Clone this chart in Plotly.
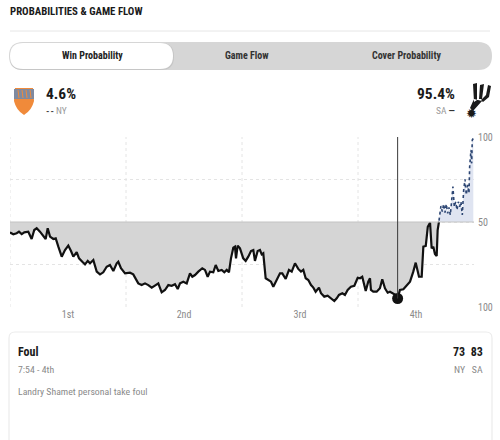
import plotly.graph_objects as go

# game clock in minutes elapsed (0-48), value = position on the 100/50/100 scale
game_min = [0.0, 0.34, 0.69, 0.93, 1.21, 1.48, 1.89, 2.24, 2.51, 2.76, 3.10, 3.44, 3.69, 3.90,
            4.14, 4.48, 4.73, 5.00, 5.35, 5.69, 6.03, 6.31, 6.55, 6.90, 7.14, 7.48, 7.76, 8.04,
            8.28, 8.62, 8.97, 9.31, 9.65, 10.00, 10.34, 10.69, 11.04, 11.20, 11.48, 11.90, 12.41,
            12.75, 13.27, 13.62, 13.97, 14.31, 14.66, 15.07, 15.34, 15.69, 16.03, 16.38, 16.73,
            17.07, 17.35, 17.59, 17.93, 18.28, 18.62, 18.86, 19.14, 19.48, 19.89, 20.17, 20.45,
            20.69, 21.03, 21.28, 21.55, 21.90, 22.17, 22.42, 22.65, 22.86, 23.10, 23.27, 23.38,
            23.55, 23.79, 24.13, 24.38, 24.65, 24.93, 25.17, 25.34, 25.62, 25.86, 26.04, 26.20,
            26.45, 26.72, 27.00, 27.24, 27.59, 27.93, 28.17, 28.52, 28.86, 29.14, 29.48, 29.82,
            30.10, 30.34, 30.59, 30.86, 31.14, 31.38, 31.62, 31.96, 32.17, 32.51, 32.86, 33.21,
            33.55, 33.80, 34.03, 34.38, 34.65, 34.93, 35.27, 35.62, 35.97, 36.21, 36.44, 36.80,
            37.06, 37.24, 37.34, 37.58, 37.93, 38.27, 38.51, 38.79, 39.07, 39.31, 39.55, 39.90,
            40.10, 40.34, 40.69, 41.04, 41.38, 41.72, 41.97, 42.31, 42.59, 42.76, 43.01, 43.22,
            43.45, 43.62, 43.79, 43.96, 44.14, 44.24, 44.38]
win_prob = [43.9, 42.8, 43.4, 44.3, 42.9, 43.9, 44.3, 40.0, 45.3, 46.3, 44.3, 41.9, 40.0, 46.3,
            41.4, 40.0, 40.4, 35.5, 29.6, 33.5, 36.1, 32.9, 29.6, 32.2, 28.6, 26.6, 25.1, 27.1,
            25.7, 27.6, 20.8, 19.2, 20.4, 23.7, 24.7, 21.2, 25.7, 26.6, 22.8, 19.8, 20.2,
            19.2, 13.9, 12.9, 13.9, 12.9, 11.4, 12.9, 13.9, 8.6, 10.0, 12.9, 12.5,
            13.4, 10.6, 13.9, 14.9, 13.9, 19.8, 17.8, 18.8, 20.8, 22.8, 21.8, 17.8,
            20.8, 20.4, 24.7, 21.2, 21.8, 20.4, 21.8, 20.4, 28.6, 34.9, 35.5, 28.6,
            36.1, 34.5, 28.6, 27.1, 29.6, 32.9, 33.5, 27.1, 32.9, 33.5, 31.0, 31.6,
            16.9, 15.9, 14.9, 11.9, 15.9, 19.8, 19.8, 16.5, 21.8, 20.8, 25.7, 22.4,
            20.8, 21.8, 16.9, 15.9, 12.9, 11.4, 9.0, 11.4, 8.1, 6.1, 6.7, 5.1,
            3.5, 5.1, 7.1, 8.1, 7.1, 10.0, 11.9, 12.5, 17.2, 16.9, 17.8, 9.4,
            14.9, 16.9, 10.0, 9.0, 9.0, 11.0, 16.3, 11.0, 8.4, 9.0, 8.1, 7.1,
            5.0, 10.0, 10.4, 12.9, 14.9, 20.8, 26.1, 17.8, 17.8, 35.5, 35.9, 47.2,
            49.6, 34.5, 35.5, 31.2, 30.0, 45.3, 50.2]

sa_min = [44.38, 44.58, 44.72, 44.86, 45.00, 45.13, 45.28, 45.41, 45.55, 45.69, 45.82, 45.96,
          46.11, 46.24, 46.38, 46.52, 46.65, 46.79, 46.93, 47.07, 47.20, 47.35, 47.48, 47.55,
          47.69, 47.76, 47.82, 47.93]
sa_prob = [50.8, 59.4, 56.1, 60.6, 55.5, 60.6, 55.1, 58.6, 54.1, 63.9, 70.8, 59.0,
           61.9, 57.1, 61.9, 59.0, 61.9, 54.1, 68.8, 75.1, 65.9, 71.8, 66.9, 82.5,
           92.4, 84.5, 98.2, 99.2]

quarters = ["1st", "2nd", "3rd", "4th"]
quarter_mid = [6, 18, 30, 42]
quarter_edges = [0, 12, 24, 36]
y_ticks = [0, 25, 50, 75, 100]
y_labels = ["100", "", "50", "", "100"]

hover_min = 40.10
hover_prob = 5.0

FONT = "Roboto Condensed, Roboto, sans-serif"
W, H = 500, 440


def px(x):
    return x / W


def py(y):
    return 1 - y / H


def poly(pts):
    return "M" + " L".join(f"{px(a)},{py(b)}" for a, b in pts) + " Z"


def pill(x0, y0, x1, y1, r):
    # rounded rect in paper coords, input in pixels
    a, b, c, d = px(x0), py(y0), px(x1), py(y1)
    rx, ry = r / W, r / H
    return (f"M{a+rx},{b} L{c-rx},{b} Q{c},{b} {c},{b-ry} L{c},{d+ry} Q{c},{d} {c-rx},{d} "
            f"L{a+rx},{d} Q{a},{d} {a},{d+ry} L{a},{b-ry} Q{a},{b} {a+rx},{b} Z")


fig = go.Figure()

# baseline at 50 for fills
fig.add_trace(go.Scatter(x=game_min, y=[50] * len(game_min), mode="lines",
                         line=dict(width=0), hoverinfo="skip", showlegend=False))
fig.add_trace(go.Scatter(x=game_min, y=win_prob, mode="lines", fill="tonexty",
                         fillcolor="#d5d5d5", line=dict(color="#111111", width=2.2),
                         showlegend=False))
fig.add_trace(go.Scatter(x=sa_min, y=[50] * len(sa_min), mode="lines",
                         line=dict(width=0), hoverinfo="skip", showlegend=False))
fig.add_trace(go.Scatter(x=sa_min, y=sa_prob, mode="lines", fill="tonexty",
                         fillcolor="#dfe4f1", line=dict(color="#2d4673", width=1.6, dash="dot"),
                         showlegend=False))

shapes = []
# vertical quarter gridlines
for q in quarter_edges:
    shapes.append(dict(type="line", xref="x", yref="y", x0=q, x1=q, y0=0, y1=100,
                       line=dict(color="#e4e4e4", width=1, dash="dot"), layer="below"))
# 50 line
shapes.append(dict(type="line", xref="x", yref="y", x0=0, x1=48, y0=50, y1=50,
                   line=dict(color="#c4c4c4", width=1.2)))
# hover marker line
shapes.append(dict(type="line", xref="x", yref="y", x0=hover_min, x1=hover_min, y0=hover_prob, y1=100,
                   line=dict(color="#3a3a3a", width=1)))

fig.add_trace(go.Scatter(x=[hover_min], y=[hover_prob], mode="markers",
                         marker=dict(color="#111111", size=11), showlegend=False))

# header separator
shapes.append(dict(type="line", xref="paper", yref="paper", x0=px(10), x1=px(490), y0=py(31), y1=py(31),
                   line=dict(color="#e6e6e6", width=1)))
# tab bar
shapes.append(dict(type="path", xref="paper", yref="paper", path=pill(9, 42, 492, 70, 14),
                   fillcolor="#d6d6d6", line=dict(width=0)))
shapes.append(dict(type="path", xref="paper", yref="paper", path=pill(10, 43, 174, 70, 13),
                   fillcolor="#c6c6c6", line=dict(width=0)))
shapes.append(dict(type="path", xref="paper", yref="paper", path=pill(10, 43, 173, 69, 13),
                   fillcolor="#ffffff", line=dict(width=0)))
# bottom card
shapes.append(dict(type="path", xref="paper", yref="paper", path=pill(9, 332, 492, 446, 6),
                   fillcolor="#ffffff", line=dict(color="#ececec", width=1.2)))

# knicks logo (simplified)
knicks = (f"M{px(15)},{py(88)} L{px(33)},{py(88)} L{px(34)},{py(101)} "
          f"Q{px(32)},{py(110)} {px(24)},{py(115)} Q{px(16)},{py(110)} {px(14)},{py(101)} Z")
shapes.append(dict(type="path", xref="paper", yref="paper", path=knicks,
                   fillcolor="#f08a3a", line=dict(width=0)))
shapes.append(dict(type="path", xref="paper", yref="paper",
                   path=poly([(14, 89), (34, 89), (34, 99), (14, 99)]),
                   fillcolor="#7f8aa0", line=dict(width=0)))
for sx in (18, 22, 26, 30):
    shapes.append(dict(type="line", xref="paper", yref="paper", x0=px(sx), x1=px(sx + 1),
                       y0=py(90), y1=py(98), line=dict(color="#f08a3a", width=1)))
# spurs logo (simplified)
spur = " ".join([
    poly([(473, 84), (477, 83), (477, 100), (474, 102)]),
    poly([(480, 85), (484, 84), (482, 99), (479, 99)]),
    poly([(488, 85), (491, 86), (489, 97), (483, 102), (481, 100), (486, 95)]),
    poly([(474, 99), (482, 101), (473, 111), (470, 108)]),
])
shapes.append(dict(type="path", xref="paper", yref="paper", path=spur,
                   fillcolor="#1a1a1a", line=dict(width=0)))

ann = []


def txt(x, y, s, size, color, anchor="left", bold=False, family=FONT):
    if bold:
        s = f"<b>{s}</b>"
    # annotation boxes pad the text by ~2px
    if anchor == "left":
        x -= 2
    elif anchor == "right":
        x += 2
    ann.append(dict(x=px(x), y=py(y), xref="paper", yref="paper", text=s, showarrow=False,
                    xanchor=anchor, yanchor="middle", font=dict(size=size, color=color, family=family)))


txt(10, 12, "PROBABILITIES &amp; GAME FLOW", 10.8, "#1a1a1a", bold=True)
txt(92, 56, "Win Probability", 10, "#222222", anchor="center", bold=True)
txt(247, 56, "Game Flow", 10, "#333333", anchor="center", bold=True)
txt(406, 56, "Cover Probability", 10, "#333333", anchor="center", bold=True)

txt(46, 94, "4.6%", 15.5, "#1a1a1a", bold=True)
txt(46, 110, "<span style='color:#444'><b>-&#8202;-</b></span> NY", 9.5, "#9a9a9a")
txt(455, 94, "95.4%", 15.5, "#1a1a1a", anchor="right", bold=True)
txt(455, 110, "SA <span style='color:#333'><b>—</b></span>", 9.5, "#9a9a9a", anchor="right")
txt(471, 113, "✹", 13, "#1a1a1a", anchor="center", family="DejaVu Sans")

txt(18, 352, "Foul", 12, "#1a1a1a", bold=True)
txt(18, 369, "7:54 - 4th", 9.8, "#8a8a8a")
txt(18, 391, "Landry Shamet personal take foul", 9.8, "#8a8a8a")
txt(483, 352, "73&nbsp;&nbsp;83", 12, "#1a1a1a", anchor="right", bold=True)
txt(483, 369, "NY&nbsp;&nbsp;&nbsp;SA", 9.8, "#8a8a8a", anchor="right")

fig.update_layout(
    width=W, height=H,
    margin=dict(l=0, r=0, t=0, b=0),
    paper_bgcolor="white", plot_bgcolor="white",
    shapes=shapes, annotations=ann,
    xaxis=dict(domain=[px(10), px(474)], range=[0, 48], tickvals=quarter_mid, ticktext=quarters,
               showgrid=False, zeroline=False, showline=False, ticks="", automargin=False,
               tickfont=dict(size=10, color="#8a8a8a", family=FONT), fixedrange=True),
    yaxis=dict(domain=[py(307), py(137)], range=[0, 100], side="right", tickvals=y_ticks,
               ticktext=y_labels, showgrid=True, gridcolor="#e4e4e4", griddash="dot",
               zeroline=False, showline=False, ticks="", automargin=False, ticklabelstandoff=3,
               tickfont=dict(size=10, color="#8a8a8a", family=FONT), fixedrange=True),
    hovermode=False,
)

# drop the default page margin so the figure sits at the window corner
fig.write_html("out.html", config={"displayModeBar": False},
               post_script="document.body.style.margin='0';")
